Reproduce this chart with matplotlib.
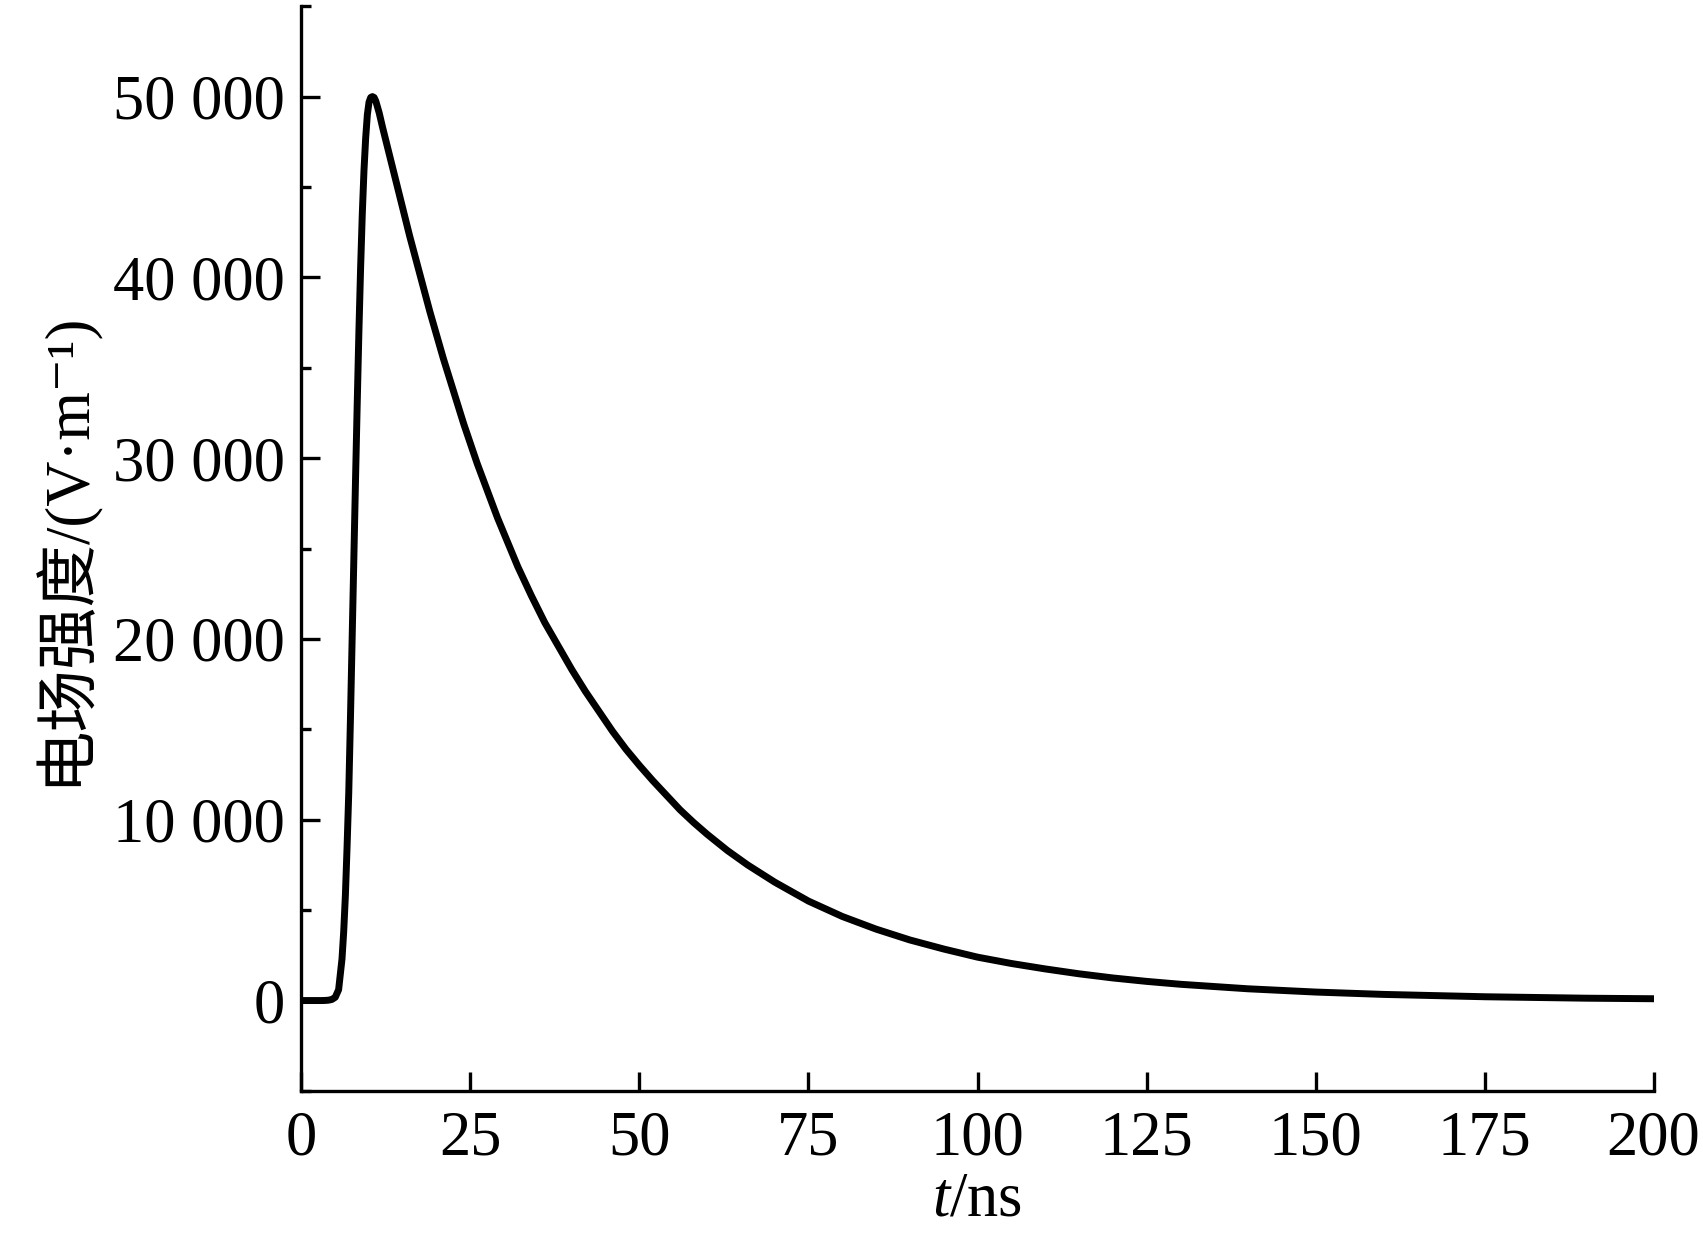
import matplotlib
matplotlib.use('Agg')
import matplotlib.pyplot as plt
from matplotlib.ticker import MultipleLocator

plt.rcParams['font.family'] = ['Liberation Serif', 'Noto Sans CJK SC', 'DejaVu Serif']
plt.rcParams['mathtext.fontset'] = 'custom'
plt.rcParams['mathtext.rm'] = 'Liberation Serif'
plt.rcParams['mathtext.it'] = 'Liberation Serif:italic'

# time (ns) and field strength (V/m)
t = [0, 2, 3, 3.5, 4, 4.5, 5, 5.5, 6, 6.25, 6.5, 6.75, 7, 7.25, 7.5, 7.75,
     8, 8.25, 8.5, 8.75, 9, 9.25, 9.5, 9.75, 10, 10.25, 10.5, 10.75,
     11, 11.5, 12, 13, 14, 15, 16, 17, 18, 19, 20, 21, 22, 23, 24, 25, 26,
     27, 28, 29, 30, 32, 34, 36, 38, 40, 42, 44, 46, 48, 50, 52, 54, 56, 58,
     60, 63, 66, 70, 75, 80, 85, 90, 95, 100, 105, 110, 115, 120, 125, 130,
     140, 150, 160, 175, 190, 200]
e = [0, 0, 0, 5, 20, 60, 180, 600, 2300, 3800, 5800, 8500, 11500, 15600,
     20000, 24400, 28800, 33000, 37000, 40500, 43500, 45900, 47700, 49000,
     49700, 49950, 50000, 49950,
     49750, 49100, 48300, 46800, 45300, 43800, 42300, 40900, 39500, 38100,
     36800, 35500, 34300, 33100, 31900, 30800, 29700,
     28700, 27700, 26700, 25800, 24000, 22400, 20900, 19600, 18300, 17100,
     16000, 14900, 13900, 13000, 12150, 11350, 10550, 9850,
     9200, 8300, 7500, 6550, 5500, 4650, 3950, 3350, 2850, 2400, 2050, 1750,
     1480, 1250, 1060, 900,
     650, 470, 340, 210, 130, 100]

xticks = [0, 25, 50, 75, 100, 125, 150, 175, 200]
yticks = [0, 10000, 20000, 30000, 40000, 50000]
ylabels = ['0', '10 000', '20 000', '30 000', '40 000', '50 000']

fig = plt.figure(figsize=(17.03, 12.39), dpi=100)
ax = fig.add_axes([0.177, 0.1195, 0.794, 0.8755])

ax.plot(t, e, color='black', lw=5, solid_joinstyle='round')

ax.set_xlim(0, 200)
ax.set_ylim(-5000, 55000)
ax.set_xticks(xticks)
ax.set_yticks(yticks)
ax.set_yticklabels(ylabels)
ax.yaxis.set_minor_locator(MultipleLocator(5000))

for s in ['top', 'right']:
    ax.spines[s].set_visible(False)
for s in ['left', 'bottom']:
    ax.spines[s].set_linewidth(2.4)

ax.tick_params(axis='both', which='major', direction='in', length=14,
               width=2.4, labelsize=45)
ax.tick_params(axis='x', which='major', pad=14)
ax.tick_params(axis='y', which='major', pad=12)
ax.tick_params(axis='y', which='minor', direction='in', length=7, width=2.4)

ax.set_xlabel('$t$/ns', fontsize=45, labelpad=2)
ax.set_ylabel('电场强度/(V·m⁻¹)', fontsize=45, labelpad=12)

fig.savefig('out.png', dpi=100)
